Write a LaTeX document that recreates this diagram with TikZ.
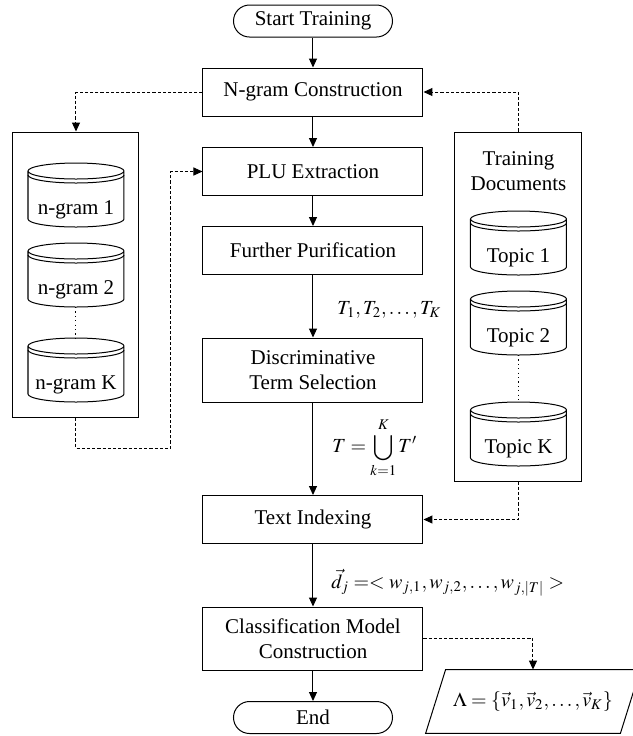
\documentclass[tikz,border=0pt]{standalone}
\usepackage{mathptmx}
\usepackage{fontspec}
\setmainfont{Liberation Serif}
\usetikzlibrary{calc}
\usetikzlibrary{arrows.meta}
\newcommand{\mainx}{313}
\newcommand{\cylhw}{48}
\newcommand{\cylry}{8}
\newcommand{\cyltop}{39}
\newcommand{\cylbot}{-9}
\newcommand{\cylgap}{35}
\newcommand{\dbcylinder}[4]{
  \node[cyltext] (#1) at (#2,#3) {#4};
  \draw[line] ($(#1.center)+(-\cylhw,\cyltop)$) -- ($(#1.center)+(-\cylhw,\cylbot)$)
    arc[start angle=180,end angle=360,x radius=\cylhw,y radius=\cylry]
    -- ($(#1.center)+(\cylhw,\cyltop)$)
    arc[start angle=0,end angle=360,x radius=\cylhw,y radius=\cylry];
  \draw[line] ($(#1.center)+(-\cylhw,\cylgap)$)
    arc[start angle=180,end angle=360,x radius=\cylhw,y radius=\cylry];
  \coordinate (#1-top) at ($(#1.center)+(0,\cyltop+\cylry)$);
  \coordinate (#1-bot) at ($(#1.center)+(0,\cylbot-\cylry)$);
}
\tikzset{
  line/.style={line width=0.5pt},
  procbox/.style={line, draw, minimum width=110pt, minimum height=24pt,
    inner sep=1pt, align=center},
  termbox/.style={line, draw, rounded corners=8pt, minimum width=79.5pt,
    minimum height=16pt, inner sep=1pt},
  grpbox/.style={line, draw, minimum width=63pt, inner sep=0pt},
  cyltext/.style={inner sep=0pt},
  mathlbl/.style={anchor=west, inner sep=0pt, font=\fontsize{10}{12}\selectfont},
  flow/.style={line, -{Triangle[length=4.5pt,width=4pt]}},
  dashflow/.style={line, dash pattern=on 1.6pt off 1pt, -{Triangle[length=4.5pt,width=4pt]}},
  dotline/.style={line, dash pattern=on 0.6pt off 1.6pt},
}
\begin{document}
\begin{tikzpicture}[x=0.5pt,y=0.5pt,font=\fontsize{10.5}{12.6}\selectfont]
    \useasboundingbox (0,0) rectangle (633,-736);
    % main column
    \begin{scope}
      \node[termbox] (start) at (\mainx,-21) {Start Training};
      \node[procbox] (ngram) at (\mainx,-92) {N-gram Construction};
      \node[procbox] (plu) at (\mainx,-171.5) {PLU Extraction};
      \node[procbox] (purify) at (\mainx,-250.5) {Further Purification};
      \node[procbox, minimum height=32pt] (select) at (\mainx,-370)
        {Discriminative\\Term Selection};
      \node[procbox] (index) at (\mainx,-519.5) {Text Indexing};
      \node[procbox, minimum height=31.5pt] (classif) at (\mainx,-638.5)
        {Classification Model\\Construction};
      \node[termbox] (finish) at (\mainx,-717.5) {End};
    \end{scope}
    \draw[flow] (start) -- (ngram);
    \draw[flow] (ngram) -- (plu);
    \draw[flow] (plu) -- (purify);
    \draw[flow] (purify) -- (select);
    \draw[flow] (select) -- (index);
    \draw[flow] (index) -- (classif);
    \draw[flow] (classif) -- (finish);
    % labels on the flow
    \node[mathlbl] (tlist) at (337,-310) {$T_1,T_2,\ldots,T_K$};
    \node[mathlbl] (tunion) at (332,-448)
      {$\displaystyle T = \bigcup_{k=1}^{K} T'$};
    \node[mathlbl] (dvec) at (331,-583)
      {$\vec{d}_j =< w_{j,1},w_{j,2},\ldots,w_{j,|T|} >$};
    % n-gram store
    \begin{scope}
      \node[grpbox, minimum height=142.5pt] (ngbox) at (76,-274.5) {};
      \dbcylinder{ng1}{76}{-210}{n-gram 1}
      \dbcylinder{ng2}{76}{-290}{n-gram 2}
      \dbcylinder{ngk}{76}{-385}{n-gram K}
      \draw[dotline] (ng2-bot) -- (ngk-top);
    \end{scope}
    % training documents
    \begin{scope}
      \node[grpbox, minimum width=63.5pt, minimum height=174.5pt] (docs)
        at (518.5,-306.5) {};
      \node[align=center] (docslbl) at (518.5,-171) {Training\\Documents};
      \dbcylinder{tp1}{518.5}{-258}{Topic 1}
      \dbcylinder{tp2}{518.5}{-338}{Topic 2}
      \dbcylinder{tpk}{518.5}{-449}{Topic K}
      \draw[dotline] (tp2-bot) -- (tpk-top);
    \end{scope}
    % model output
    \node[inner sep=0pt, minimum width=97pt, minimum height=31.5pt,
      font=\fontsize{10}{12}\selectfont] (lam)
      at (533,-701.5) {$\Lambda = \{\vec{v}_1,\vec{v}_2,\ldots,\vec{v}_K\}$};
    \draw[line] ($(lam.north west)+(10,0)$) -- ($(lam.north east)+(10,0)$)
      -- ($(lam.south east)+(-10,0)$) -- ($(lam.south west)+(-10,0)$) -- cycle;
    % dashed data flow
    \coordinate (ngret) at (171,-448);
    \draw[dashflow] (ngram.west) -| (ngbox.north);
    \draw[dashflow] (ngbox.south) |- (ngret) |- (plu.west);
    \draw[dashflow] (docs.north) |- (ngram.east);
    \draw[dashflow] (docs.south) |- (index.east);
    \draw[dashflow] (classif.east) -| (lam.north);
\end{tikzpicture}
\end{document}
